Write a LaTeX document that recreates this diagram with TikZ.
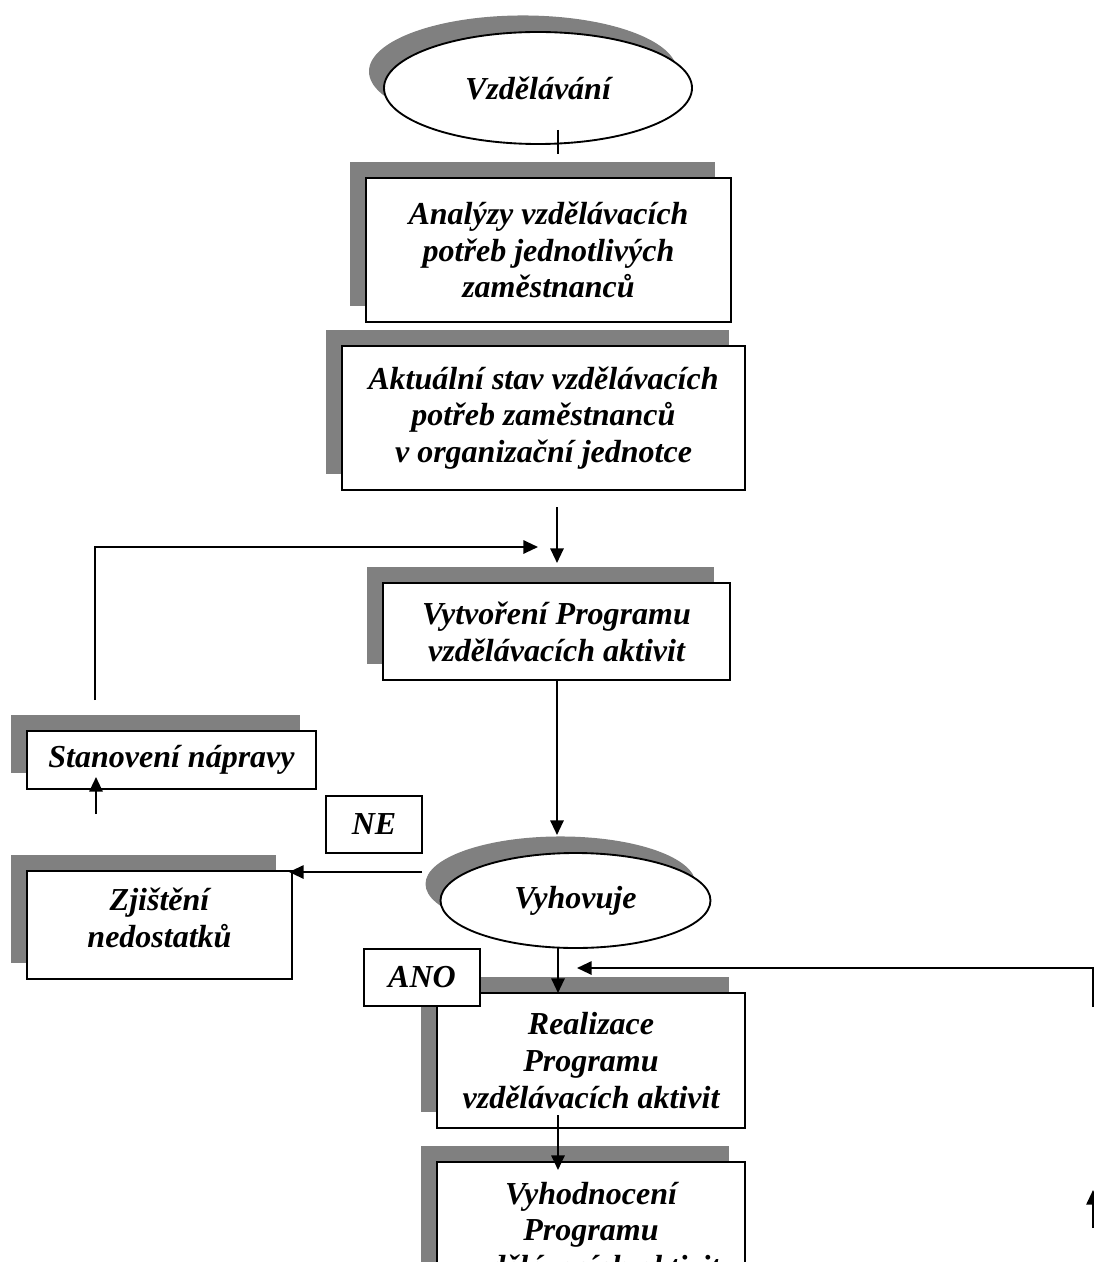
\documentclass[tikz,border=0pt]{standalone}
\usepackage{fontspec}
\setmainfont{Liberation Serif}
\usetikzlibrary{arrows.meta,shapes.geometric,shadows}
\definecolor{shgray}{HTML}{808080}
\newcommand{\boxfont}{\fontsize{24}{27.6}\selectfont\bfseries\itshape}
\begin{document}
\begin{tikzpicture}[x=0.75pt,y=-0.75pt,
  box/.style={draw, line width=1.4pt, fill=white, rectangle, inner sep=0pt, align=center, font=\boxfont},
  shbox/.style={box, general shadow={fill=shgray, shadow xshift=-12pt, shadow yshift=12pt}},
  oval/.style={ellipse, draw, line width=1.4pt, fill=white, inner sep=0pt, align=center, font=\boxfont,
     general shadow={fill=shgray, shadow xshift=-11.25pt, shadow yshift=12.4pt}},
  conn/.style={line width=1.5pt},
  arr/.style={conn, -{Triangle[length=11pt,width=10pt]}}]
\useasboundingbox (0,0) rectangle (1094,1262);
\clip (0,0) rectangle (1094,1262);
\fill[white] (0,0) rectangle (1094,1262);

% nodes
\node[oval, minimum width=231pt, minimum height=84pt] (edu) at (538,88) {Vzdělávání};
\node[shbox, minimum width=273.75pt, minimum height=108pt] (an) at (548.5,250)
  {Analýzy vzdělávacích\\potřeb jednotlivých\\zaměstnanců};
\node[shbox, minimum width=302.25pt, minimum height=108pt] (ak) at (543.5,418)
  {Aktuální stav vzdělávacích\\potřeb zaměstnanců\\v organizační jednotce};
\node[shbox, minimum width=260.25pt, minimum height=72.75pt] (vy) at (556.5,631.5)
  {Vytvoření Programu\\vzdělávacích aktivit};
\node[shbox, minimum width=216.75pt, minimum height=43.5pt] (st) at (171.5,760)
  {Stanovení nápravy};
\node[box, minimum width=72pt, minimum height=42.75pt] (ne) at (374,824.5) {NE};
\node[shbox, minimum width=198.75pt, minimum height=81pt] (zj) at (159.5,925)
  {Zjištění\\nedostatků\\[-17pt]\mbox{}};
\node[oval, minimum width=202.5pt, minimum height=71.25pt] (vh) at (575.5,900.5) {Vyhovuje};
\node[shbox, minimum width=231pt, minimum height=101.25pt] (re) at (591,1060.5)
  {Realizace\\Programu\\vzdělávacích aktivit};
\node[box, minimum width=87pt, minimum height=42.75pt] (ano) at (422,977.5) {ANO};
\node[shbox, minimum width=231pt, minimum height=102pt] (vd) at (591,1230)
  {Vyhodnocení\\Programu\\vzdělávacích aktivit};

% connector end points
\coordinate (e1) at (558,130);
\coordinate (e2) at (558,154);
\coordinate (d1) at (557,507);
\coordinate (d2) at (557,563);
\coordinate (f1) at (95,700);
\coordinate (f2) at (95,547);
\coordinate (f3) at (538,547);
\coordinate (v1) at (557,835);
\coordinate (s1) at (96,814);
\coordinate (s2) at (96,777);
\coordinate (n1) at (422,872);
\coordinate (n2) at (289,872);
\coordinate (h1) at (558,947);
\coordinate (h2) at (558,993);
\coordinate (r1) at (1093,1007);
\coordinate (r2) at (1093,968);
\coordinate (r3) at (577,968);
\coordinate (g1) at (558,1115);
\coordinate (g2) at (558,1170);
\coordinate (u1) at (1093,1228);
\coordinate (u2) at (1093,1190);

% connectors
\draw[conn] (e1) -- (e2);
\draw[arr] (d1) -- (d2);
\draw[arr] (f1) -- (f2) -- (f3);
\draw[arr] (vy.south -| v1) -- (v1);
\draw[arr] (s1) -- (s2);
\draw[arr] (n1) -- (n2);
\draw[arr] (h1) -- (h2);
\draw[arr] (r1) -- (r2) -- (r3);
\draw[arr] (g1) -- (g2);
\draw[arr] (u1) -- (u2);
\end{tikzpicture}
\end{document}
